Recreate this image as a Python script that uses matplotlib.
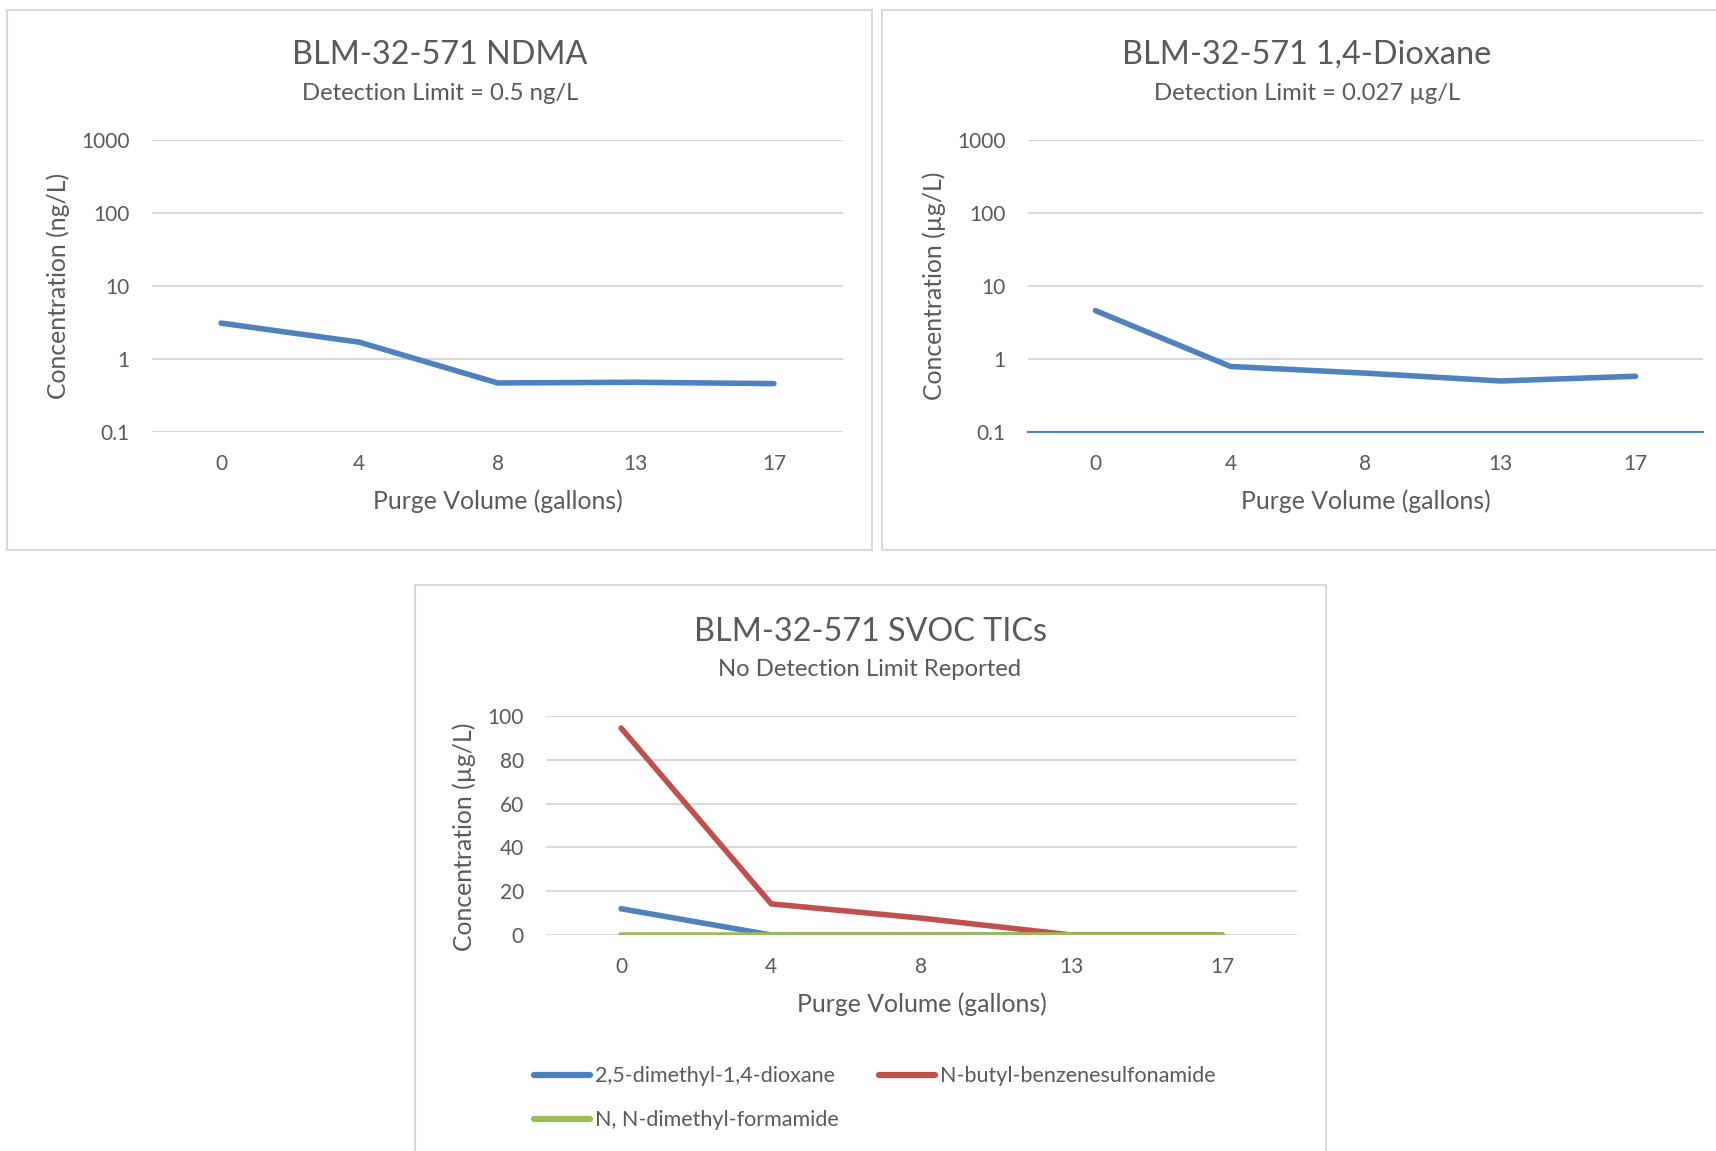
import matplotlib.pyplot as plt
import matplotlib as mpl
from matplotlib.patches import Rectangle
from matplotlib.ticker import FuncFormatter, NullLocator
import numpy as np

params = {'font.family': ['Lato', 'DejaVu Sans'], 'text.color': '#595959',
          'axes.labelcolor': '#595959', 'xtick.color': '#595959', 'ytick.color': '#595959'}
plt.rcParams.update(params)

# ---------------------------- data ----------------------------
purge = ['0', '4', '8', '13', '17']
ndma = [3.1, 1.7, 0.47, 0.48, 0.46]
dioxane = [4.6, 0.79, 0.64, 0.50, 0.58]

svoc_names = ['2,5-dimethyl-1,4-dioxane', 'N-butyl-benzenesulfonamide', 'N, N-dimethyl-formamide']
dimethyl_dioxane = [12, 0, 0, 0, 0]
butyl_benzenesulfonamide = [94.5, 14.2, 7.7, 0, 0]
dimethyl_formamide = [0, 0, 0, 0, 0]

blue, red, green = '#4F81BD', '#C0504D', '#9BBB59'
grid = '#D9D9D9'

W, H = 1716, 1151
fig = plt.figure(figsize=(W/100, H/100), dpi=100)


def px_axes(x0, y0, x1, y1):
    # pixel box (from top-left) -> axes
    return fig.add_axes([x0/W, 1 - y1/H, (x1 - x0)/W, (y1 - y0)/H])


def frame(x0, y0, x1, y1):
    fig.patches.append(Rectangle((x0/W, 1 - y1/H), (x1 - x0)/W, (y1 - y0)/H,
                                 transform=fig.transFigure, fill=False,
                                 edgecolor=grid, lw=1.5))


def style(ax, ylabel):
    for s in ax.spines.values():
        s.set_visible(False)
    ax.yaxis.grid(True, color=grid, lw=1.5)
    ax.set_axisbelow(True)
    ax.tick_params(length=0, labelsize=15)
    ax.tick_params(axis='x', pad=16)
    ax.tick_params(axis='y', pad=16)
    ax.set_xticks(range(len(purge)))
    ax.set_xticklabels(purge)
    ax.set_xlim(-0.5, len(purge) - 0.5)
    ax.set_xlabel('Purge Volume (gallons)', fontsize=17.8, labelpad=11)
    ax.set_ylabel(ylabel, fontsize=17.8, labelpad=8)


def titles(xc, yt, ys, title, sub):
    fig.text(xc/W, 1 - yt/H, title, fontsize=23.3, ha='center', va='center')
    fig.text(xc/W, 1 - ys/H, sub, fontsize=17.2, ha='center', va='center')


logfmt = FuncFormatter(lambda v, p: '{:g}'.format(v))

# --------------------------- NDMA ------------------------------
frame(7, 10, 872, 550)
ax1 = px_axes(152, 140, 843, 432)
ax1.plot(range(len(purge)), ndma, color=blue, lw=4, solid_capstyle='round')
ax1.set_yscale('log')
ax1.set_ylim(0.1, 1000)
ax1.yaxis.set_minor_locator(NullLocator())
ax1.yaxis.set_major_formatter(logfmt)
style(ax1, 'Concentration (ng/L)')
titles(440, 55, 93, 'BLM-32-571 NDMA', 'Detection Limit = 0.5 ng/L')

# -------------------------- Dioxane ----------------------------
frame(882, 10, 1740, 550)
ax2 = px_axes(1028, 140, 1703, 432)
ax2.plot(range(len(purge)), dioxane, color=blue, lw=4, solid_capstyle='round')
ax2.set_yscale('log')
ax2.set_ylim(0.1, 1000)
ax2.yaxis.set_minor_locator(NullLocator())
ax2.yaxis.set_major_formatter(logfmt)
style(ax2, 'Concentration (\u00b5g/L)')
ax2.spines['bottom'].set_visible(True)
ax2.spines['bottom'].set_color(blue)
ax2.spines['bottom'].set_linewidth(1.5)
titles(1307, 55, 93, 'BLM-32-571 1,4-Dioxane', 'Detection Limit = 0.027 \u00b5g/L')

# --------------------------- SVOC ------------------------------
frame(415, 585, 1326, 1160)
ax3 = px_axes(546, 716, 1297, 935)
x = range(len(purge))
l1, = ax3.plot(x, dimethyl_dioxane, color=blue, lw=4, solid_capstyle='round', label=svoc_names[0])
l2, = ax3.plot(x, butyl_benzenesulfonamide, color=red, lw=4, solid_capstyle='round', label=svoc_names[1])
l3, = ax3.plot(x, dimethyl_formamide, color=green, lw=4, solid_capstyle='round', label=svoc_names[2])
ax3.set_ylim(0, 100)
ax3.set_yticks(np.arange(0, 101, 20))
style(ax3, 'Concentration (\u00b5g/L)')
ax3.yaxis.label.set_y(0.45)
titles(870, 632, 670, 'BLM-32-571 SVOC TICs', 'No Detection Limit Reported')

# legend fills by column, so order handles to read row-wise like the original
leg = ax3.legend([l1, l3, l2], [svoc_names[0], svoc_names[2], svoc_names[1]],
                 loc='upper left', bbox_to_anchor=(515/W, 1 - 1047/H),
                 bbox_transform=fig.transFigure, ncol=2, frameon=False,
                 fontsize=15.5, handlelength=2.6, handletextpad=0.2,
                 columnspacing=1.9, labelspacing=1.1)
for t in leg.get_texts():
    t.set_color('#595959')
for h in leg.legend_handles:
    h.set_linewidth(4.5)

plt.savefig('out.png', dpi=100)
